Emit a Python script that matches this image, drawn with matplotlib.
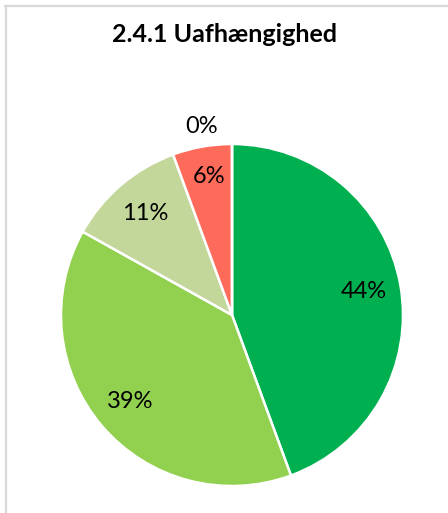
import matplotlib.pyplot as plt
from matplotlib.lines import Line2D

title = "2.4.1 Uafhængighed"
shares = [44.4, 38.7, 11.3, 5.6, 0.0]
colors = ["#00B050", "#92D050", "#C4D79B", "#FF6B5B", "#C00000"]

W, H = 448, 513
fig = plt.figure(figsize=(W / 100, H / 100), dpi=100)

# light grey frame, only top and left visible in the crop
fig.add_artist(Line2D([5 / W, 1], [1 - 6 / H, 1 - 6 / H], color="#D9D9D9", lw=1.6))
fig.add_artist(Line2D([6 / W, 6 / W], [0, 1 - 6 / H], color="#D9D9D9", lw=1.6))

fig.text(224 / W, 1 - 34 / H, title, ha="center", va="center",
         fontsize=18, fontweight="bold", family="Lato")

cx, cy, r = 232, 315, 171
ax = fig.add_axes([(cx - r) / W, (H - cy - r) / H, 2 * r / W, 2 * r / H])
wedges, texts, autotexts = ax.pie(
    shares, colors=colors, startangle=90, counterclock=False,
    autopct=lambda p: f"{p:.0f}%", pctdistance=0.78,
    wedgeprops=dict(edgecolor="white", linewidth=1.8),
    textprops=dict(fontsize=17, family="Lato", color="black"))
ax.set_xlim(-1, 1)
ax.set_ylim(-1, 1)
ax.set_aspect("equal")

# the empty slice gets its label outside the pie
autotexts[4].set_position((-0.18, 1.105))
autotexts[3].set_position((-0.135, 0.81))

fig.savefig("out.png", dpi=100)
